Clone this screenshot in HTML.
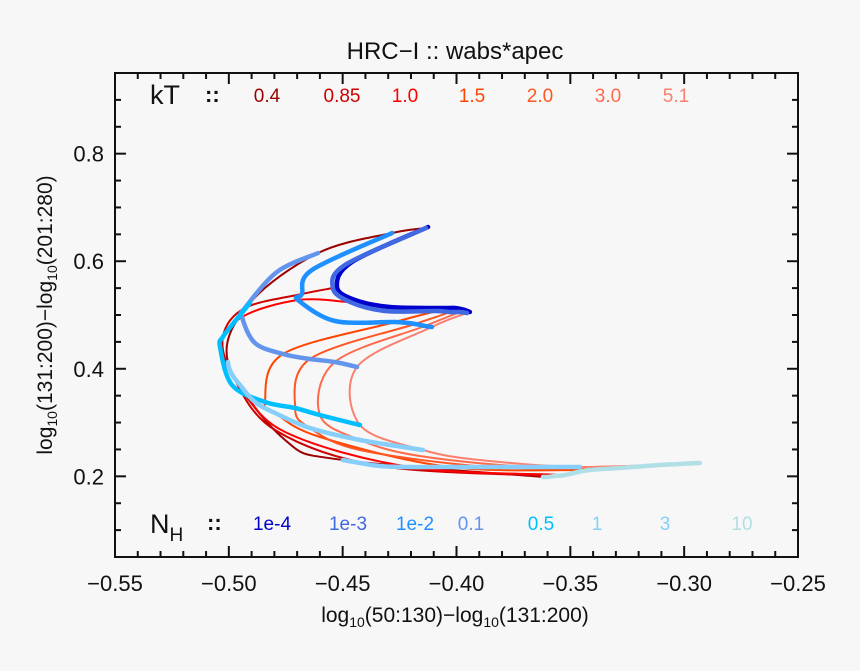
<!DOCTYPE html>
<html><head><meta charset="utf-8"><style>
html,body{margin:0;padding:0;background:#f7f7f7;}
svg{display:block;font-family:"Liberation Sans","DejaVu Sans",sans-serif;}
</style></head><body>
<svg id="chart" width="860" height="671" viewBox="0 0 860 671" xmlns="http://www.w3.org/2000/svg">
<rect x="0" y="0" width="860" height="671" fill="#f7f7f7"/>
<text x="455" y="59" font-size="24" text-anchor="middle" fill="#111">HRC−I :: wabs*apec</text>
<g id="marks"></g>
<g id="axes"></g>
<text x="455" y="622" font-size="21" text-anchor="middle" fill="#111">log<tspan font-size="14" dy="5">10</tspan><tspan dy="-5">(50:130)−log</tspan><tspan font-size="14" dy="5">10</tspan><tspan dy="-5">(131:200)</tspan></text>
<text transform="translate(52,315) rotate(-90)" font-size="21" text-anchor="middle" fill="#111">log<tspan font-size="14" dy="5">10</tspan><tspan dy="-5">(131:200)−log</tspan><tspan font-size="14" dy="5">10</tspan><tspan dy="-5">(201:280)</tspan></text>
<text x="150" y="104" font-size="27" fill="#111">kT</text>
<text x="205" y="102" font-size="22" font-weight="bold" fill="#111">::</text>
<text x="150" y="533" font-size="27" fill="#111">N<tspan font-size="19" dy="8">H</tspan></text>
<text x="207" y="530" font-size="22" font-weight="bold" fill="#111">::</text>
<g id="legend"></g>
</svg>
<script>
const ktLabels = ["0.4","0.6","0.85","1.0","1.2","1.5","2.0","3.0","5.1"];
const ktShown = [0,2,3,5,6,7,8];
const nhLabels = ["1e-4","1e-3","1e-2","0.1","0.5","1","2","3","10"];
const nhShown = [0,1,2,3,4,5,7,8];
const xTicks = [-0.55,-0.50,-0.45,-0.40,-0.35,-0.30,-0.25];
const xTickLabels = ["−0.55","−0.50","−0.45","−0.40","−0.35","−0.30","−0.25"];
const yTicks = [0.2,0.4,0.6,0.8];
const yTickLabels = ["0.2","0.4","0.6","0.8"];
// grid values: rows = kT, cols = NH (1e-4,1e-3,1e-2,0.1,0.5,1,2,3,10)
const xKT04 = [-0.4125,-0.4134,-0.4283,-0.4608,-0.4907,-0.5004,-0.4753,-0.4499,-0.362];
const yKT04 = [0.6636,0.6617,0.6525,0.6153,0.5223,0.4126,0.2676,0.2304,0.1988];
const xKT06 = [-0.4459,-0.449,-0.4635,-0.4789,-0.4986,-0.4999,-0.4775,-0.4424,-0.3598];
const yKT06 = [0.5985,0.593,0.5837,0.58,0.4814,0.4014,0.2731,0.2248,0.1988];
const xKT085 = [-0.4525,-0.4543,-0.4679,-0.4929,-0.5026,-0.4982,-0.4797,-0.4336,-0.3568];
const yKT085 = [0.552,0.5502,0.539,0.513,0.4591,0.3866,0.2862,0.2192,0.2006];
const xKT10 = [-0.4446,-0.4468,-0.4696,-0.4942,-0.5039,-0.4951,-0.4753,-0.4204,-0.3524];
const yKT10 = [0.5279,0.5242,0.5279,0.4963,0.4405,0.3698,0.2824,0.2173,0.2025];
const xKT12 = [-0.4292,-0.4314,-0.4534,-0.4885,-0.4986,-0.4885,-0.4688,-0.4117,-0.3467];
const yKT12 = [0.5149,0.5074,0.4888,0.4479,0.3698,0.3382,0.2768,0.2173,0.208];
const xKT15 = [-0.4073,-0.409,-0.427,-0.4762,-0.4841,-0.4797,-0.46,-0.4029,-0.3414];
const yKT15 = [0.513,0.5074,0.487,0.4275,0.3382,0.3178,0.2731,0.2173,0.2118];
const xKT20 = [-0.4007,-0.4029,-0.4182,-0.4644,-0.4709,-0.4644,-0.4424,-0.3853,-0.3282];
const yKT20 = [0.513,0.5056,0.4833,0.4182,0.3271,0.2899,0.249,0.2173,0.2155];
const xKT30 = [-0.3963,-0.3985,-0.4139,-0.4534,-0.46,-0.4424,-0.4161,-0.3655,-0.3106];
const yKT30 = [0.5093,0.5056,0.4795,0.4126,0.314,0.2676,0.2378,0.2173,0.2211];
const xKT51 = [-0.3941,-0.3954,-0.4108,-0.4437,-0.4424,-0.4147,-0.3897,-0.3458,-0.2931];
const yKT51 = [0.5056,0.5037,0.4777,0.4033,0.2954,0.249,0.2304,0.2173,0.2248];

const ktColors = ["#9b0000","#b00000","#cc0000","#ff0000","#ff2200","#ff4500","#ff5522","#ff6a4d","#fa8070"];
const nhColors = ["#0000cd","#4169e1","#1e90ff","#6495ed","#00bfff","#87cefa","#87cefa","#87cefa","#b0e0e6"];
const gx = [xKT04,xKT06,xKT085,xKT10,xKT12,xKT15,xKT20,xKT30,xKT51];
const gy = [yKT04,yKT06,yKT085,yKT10,yKT12,yKT15,yKT20,yKT30,yKT51];

const L=115,R=798,T=73,B=557,X0=-0.55,X1=-0.25,Y0=0.05,Y1=0.95;
function X(v){return L+(v-X0)/(X1-X0)*(R-L);}
function Y(v){return B-(v-Y0)/(Y1-Y0)*(B-T);}
const NS="http://www.w3.org/2000/svg";
function mk(tag,attrs,parent){const e=document.createElementNS(NS,tag);for(const k in attrs)e.setAttribute(k,attrs[k]);parent.appendChild(e);return e;}
function smooth(pts){
  let d="M"+pts[0][0].toFixed(1)+","+pts[0][1].toFixed(1);
  for(let i=0;i<pts.length-1;i++){
    const p0=pts[Math.max(0,i-1)],p1=pts[i],p2=pts[i+1],p3=pts[Math.min(pts.length-1,i+2)];
    const c1=[p1[0]+(p2[0]-p0[0])/6,p1[1]+(p2[1]-p0[1])/6];
    const c2=[p2[0]-(p3[0]-p1[0])/6,p2[1]-(p3[1]-p1[1])/6];
    d+=" C"+c1.map(v=>v.toFixed(1)).join(",")+" "+c2.map(v=>v.toFixed(1)).join(",")+" "+p2[0].toFixed(1)+","+p2[1].toFixed(1);
  }
  return d;
}
const marks=document.getElementById("marks");
ktShown.forEach(k=>{
  const pts=gx[k].map((v,i)=>[X(v),Y(gy[k][i])]);
  const p=mk("path",{d:smooth(pts),fill:"none",stroke:ktColors[k],"stroke-width":2},marks);
  
  
});
nhShown.forEach(j=>{
  const pts=gx.map((row,k)=>[X(row[j]),Y(gy[k][j])]);
  const p=mk("path",{d:smooth(pts),fill:"none",stroke:nhColors[j],"stroke-width":4.5,"stroke-linecap":"round","stroke-linejoin":"round"},marks);
  
  
});
const axes=document.getElementById("axes");
const fr=mk("rect",{x:L,y:T,width:R-L,height:B-T,fill:"none",stroke:"#111","stroke-width":2},axes);


for(let i=0;i<=30;i++){
  const v=X0+i*0.01,x=X(v),len=(i%5===0)?11:6;
  const t1=mk("line",{x1:x,y1:B,x2:x,y2:B-len,stroke:"#111","stroke-width":2},axes);
  
  
  const t2=mk("line",{x1:x,y1:T,x2:x,y2:T+len,stroke:"#111","stroke-width":2},axes);
  
  
}
xTicks.forEach((v,i)=>{
  const t=mk("text",{x:X(v),y:591,"font-size":22,"text-anchor":"middle",fill:"#111"},axes);
  t.textContent=xTickLabels[i];
  
  
});
for(let i=0;i<=18;i++){
  const v=0.05+i*0.05,y=Y(v),len=(i%4===3)?11:6;
  const t1=mk("line",{x1:L,y1:y,x2:L+len,y2:y,stroke:"#111","stroke-width":2},axes);
  
  
  const t2=mk("line",{x1:R,y1:y,x2:R-len,y2:y,stroke:"#111","stroke-width":2},axes);
  
  
}
yTicks.forEach((v,i)=>{
  const t=mk("text",{x:104,y:Y(v)+8,"font-size":22,"text-anchor":"end",fill:"#111"},axes);
  t.textContent=yTickLabels[i];
  
  
});
const legend=document.getElementById("legend");
const ktPos=[267,342,405,472,540,608,676];
ktShown.forEach((k,i)=>{
  const t=mk("text",{x:ktPos[i],y:102,"font-size":19,"text-anchor":"middle",fill:ktColors[k]},legend);
  t.textContent=ktLabels[k];
  
  
});
const nhPos=[272,348,415,471,541,597,665,742];
nhShown.forEach((j,i)=>{
  const t=mk("text",{x:nhPos[i],y:530,"font-size":19,"text-anchor":"middle",fill:nhColors[j]},legend);
  t.textContent=nhLabels[j];
  
  
});
</script>
</body></html>
